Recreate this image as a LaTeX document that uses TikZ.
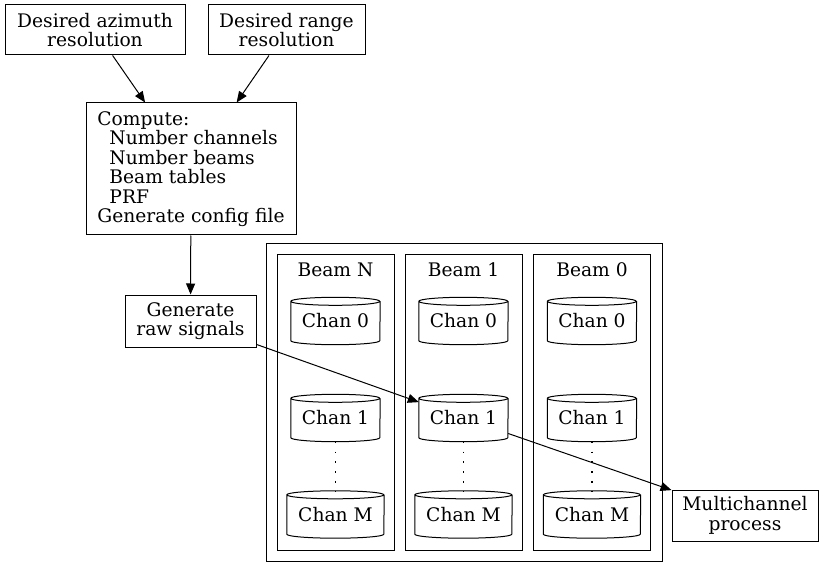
\documentclass[tikz,border=0pt]{standalone}
\usepackage{fontspec}
\setmainfont{DejaVu Serif}
\usetikzlibrary{arrows.meta}
\tikzset{
  box/.style={draw, line width=1pt, rectangle, inner sep=0pt, align=center},
  clusterbox/.style={draw, line width=1pt, rectangle, inner sep=0pt},
  chan/.style={inner sep=0pt, minimum height=47pt},
  edge/.style={line width=1pt, -{Triangle[length=11pt,width=9pt]}},
  dotline/.style={line width=1.2pt, dash pattern=on 1.6pt off 8.2pt},
}
\newcommand\cylpath[2]{%
  \draw[line width=1pt] ([yshift=-4pt]#1.north west) arc[start angle=180, end angle=540, x radius=#2, y radius=4pt]
    -- ([yshift=4pt]#1.south west) arc[start angle=180, end angle=360, x radius=#2, y radius=4pt]
    -- ([yshift=-4pt]#1.north east);}
\begin{document}
\begin{tikzpicture}[x=1pt, y=-1pt, font=\fontsize{18.67pt}{19.5pt}\selectfont]
\useasboundingbox (0,0) rectangle (824,577);
% top nodes
\node[box, minimum width=180pt, minimum height=50pt] (az) at (95,30) {Desired azimuth\\resolution};
\node[box, minimum width=157pt, minimum height=50pt] (rg) at (286.5,30) {Desired range\\resolution};
\node[box, minimum width=210pt, minimum height=132pt, align=left] (cp) at (191,169)
  {Compute:\\\hspace*{12pt}Number channels\\\hspace*{12pt}Number beams\\\hspace*{12pt}Beam tables\\\hspace*{12pt}PRF\\Generate config file};
\node[box, minimum width=131pt, minimum height=52pt] (gen) at (190.5,321) {Generate\\raw signals};
\node[box, minimum width=146pt, minimum height=51pt] (mc) at (745,515.5) {Multichannel\\process};
% clusters
\node[clusterbox, minimum width=396pt, minimum height=317pt] (outer) at (464,402.5) {};
\foreach \nm/\cx/\lab in {bN/335.5/Beam N, bA/463.5/Beam 1, bB/592/Beam 0}{
  \node[clusterbox, minimum width=117pt, minimum height=295pt] (\nm) at (\cx,402.5) {};
  \node (\nm lab) at (\cx,270) {\lab};
  \node[chan, minimum width=89pt] (\nm c0) at (\cx,321) {Chan 0};
  \node[chan, minimum width=89pt] (\nm c1) at (\cx,418) {Chan 1};
  \node[chan, minimum width=97pt] (\nm cm) at (\cx,514.5) {Chan M};
  \cylpath{\nm c0}{44.5pt}
  \cylpath{\nm c1}{44.5pt}
  \cylpath{\nm cm}{48.5pt}
  \draw[dotline] (\nm c1.south) -- (\nm cm.north);
}
% edges
\draw[edge] (az) -- (cp);
\draw[edge] (rg) -- (cp);
\draw[edge] (cp) -- (gen);
\draw[edge] (gen) -- (bAc1);
\draw[edge] (bAc1) -- (mc);
\end{tikzpicture}
\end{document}
